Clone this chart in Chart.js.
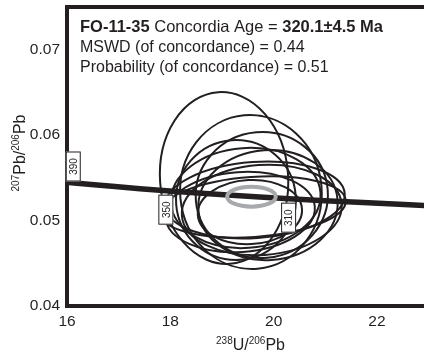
<!DOCTYPE html>
<html>
<head>
<meta charset="utf-8">
<script src="https://cdn.jsdelivr.net/npm/chart.js@4.4.1/dist/chart.umd.min.js"></script>
<style>
  html, body { margin: 0; padding: 0; background: #fff; }
  #wrap { width: 424px; height: 353px; position: relative; }
</style>
</head>
<body>
<div id="wrap"><canvas id="c"></canvas></div>
<script>
// Tera-Wasserburg concordia (age in Ma, 238U/206Pb, 207Pb/206Pb)
const concordiaAge = [400, 390, 380, 370, 360, 350, 340, 330, 320, 310, 300, 290, 280, 270];
const concordiaX = [15.629, 16.034, 16.469, 16.928, 17.411, 17.923, 18.464, 19.039, 19.649, 20.299, 20.992, 21.733, 22.527, 23.380];
const concordiaY = [0.054700, 0.054457, 0.054215, 0.053976, 0.053736, 0.053499, 0.053262, 0.053028, 0.052795, 0.052565, 0.052334, 0.052106, 0.051878, 0.051652];
const labelledAges = [390, 350, 310];

// Spot analyses: ellipse centre, half-axes and tilt (degrees)
const ellipseX    = [19.04, 19.56, 19.77, 19.46, 19.64, 19.60, 19.35, 19.77, 19.54, 19.27, 19.89];
const ellipseY    = [0.05498, 0.05334, 0.05299, 0.05264, 0.05241, 0.05159, 0.05100, 0.05124, 0.05100, 0.05241, 0.05182];
const ellipseRX   = [1.24, 1.37, 1.28, 1.45, 1.74, 1.80, 1.45, 1.55, 1.01, 1.16, 1.35];
const ellipseRY   = [0.01007, 0.00901, 0.00737, 0.00585, 0.00445, 0.00351, 0.00468, 0.00527, 0.00375, 0.00702, 0.00644];
const ellipseTilt = [-4, -5, -5, -4, -4, -4, -4, -4, -3, -4, -4];

// Concordia age ellipse
const ageX = [19.57];
const ageY = [0.0528];
const ageRX = [0.47];
const ageRY = [0.00117];

const xTicks = [16, 18, 20, 22];
const yTicks = [0.04, 0.05, 0.06, 0.07];

const INK = '#231f20';
const FONT = '"Liberation Sans", Arial, sans-serif';

function ellipsePath(ctx, xs, ys, cx, cy, rx, ry, tilt) {
  const px = xs.getPixelForValue(cx);
  const py = ys.getPixelForValue(cy);
  const prx = Math.abs(xs.getPixelForValue(cx + rx) - px);
  const pry = Math.abs(ys.getPixelForValue(cy + ry) - py);
  ctx.beginPath();
  ctx.ellipse(px, py, prx, pry, tilt * Math.PI / 180, 0, Math.PI * 2);
}

// draws a run of [text, size, bold, raise] pieces starting at x on baseline y
function drawRich(ctx, parts, x, y) {
  let cx = x;
  parts.forEach(p => {
    ctx.font = (p[2] ? 'bold ' : '') + p[1] + 'px ' + FONT;
    ctx.fillText(p[0], cx, y - (p[3] || 0));
    cx += ctx.measureText(p[0]).width;
  });
  return cx - x;
}
function richWidth(ctx, parts) {
  let w = 0;
  parts.forEach(p => {
    ctx.font = (p[2] ? 'bold ' : '') + p[1] + 'px ' + FONT;
    w += ctx.measureText(p[0]).width;
  });
  return w;
}

const ellipsesPlugin = {
  id: 'ellipses',
  beforeDatasetsDraw(chart) {
    const ctx = chart.ctx, xs = chart.scales.x, ys = chart.scales.y;
    ctx.save();
    ctx.strokeStyle = INK;
    ctx.lineWidth = 2;
    for (let i = 0; i < ellipseX.length; i++) {
      ellipsePath(ctx, xs, ys, ellipseX[i], ellipseY[i], ellipseRX[i], ellipseRY[i], ellipseTilt[i]);
      ctx.stroke();
    }
    ctx.restore();
  },
  afterDatasetsDraw(chart) {
    const ctx = chart.ctx, xs = chart.scales.x, ys = chart.scales.y;
    ctx.save();
    // concordia age ellipse
    ctx.strokeStyle = '#a7a9ac';
    ctx.lineWidth = 4;
    for (let i = 0; i < ageX.length; i++) {
      ellipsePath(ctx, xs, ys, ageX[i], ageY[i], ageRX[i], ageRY[i], 0);
      ctx.stroke();
    }
    // age tick labels on the concordia
    labelledAges.forEach((age, k) => {
      const i = concordiaAge.indexOf(age);
      const px = xs.getPixelForValue(concordiaX[i]);
      const py = ys.getPixelForValue(concordiaY[i]);
      const w = 15, h = 30;
      let bx, by;
      if (k === 0) { bx = px - 3; by = py - h - 1; }
      else { bx = px - w / 2 - 0.5; by = py + 4; }
      ctx.fillStyle = '#fff';
      ctx.fillRect(bx, by, w, h);
      ctx.strokeStyle = INK;
      ctx.lineWidth = 1;
      ctx.strokeRect(bx + 0.5, by + 0.5, w - 1, h - 1);
      ctx.save();
      ctx.translate(bx + w / 2, by + h / 2);
      ctx.rotate(-Math.PI / 2);
      ctx.fillStyle = INK;
      ctx.font = '10px ' + FONT;
      ctx.textAlign = 'center';
      ctx.textBaseline = 'middle';
      ctx.fillText(String(age), 0, 1);
      ctx.restore();
    });
    ctx.restore();
  },
  afterDraw(chart) {
    const ctx = chart.ctx, a = chart.chartArea;
    ctx.save();
    ctx.fillStyle = INK;
    ctx.textBaseline = 'alphabetic';
    ctx.textAlign = 'left';
    const tx = a.left + 13;
    drawRich(ctx, [['FO-11-35', 16.5, true], [' Concordia Age = ', 16.5, false], ['320.1\u00b14.5 Ma', 16.5, true]], tx, a.top + 25);
    drawRich(ctx, [['MSWD (of concordance) = 0.44', 16, false]], tx, a.top + 45);
    drawRich(ctx, [['Probability (of concordance) = 0.51', 16, false]], tx, a.top + 65);

    // x axis title
    const xt = [['238', 10, false, 6], ['U/', 16, false], ['206', 10, false, 6], ['Pb', 16, false]];
    const xw = richWidth(ctx, xt);
    drawRich(ctx, xt, (a.left + a.right) / 2 + 5 - xw / 2, 350);

    // y axis title
    const yt = [['207', 10, false, 6], ['Pb/', 16, false], ['206', 10, false, 6], ['Pb', 16, false]];
    const yw = richWidth(ctx, yt);
    ctx.translate(25, 153);
    ctx.rotate(-Math.PI / 2);
    drawRich(ctx, yt, -yw / 2, 0);
    ctx.restore();
  }
};

function noEdgePadding(s) {
  s.paddingTop = 0; s.paddingBottom = 0; s.paddingLeft = 0; s.paddingRight = 0;
}

new Chart(document.getElementById('c'), {
  type: 'scatter',
  data: {
    datasets: [{
      label: 'Concordia',
      data: concordiaX.map((x, i) => ({ x: x, y: concordiaY[i] })),
      showLine: true,
      borderColor: INK,
      borderWidth: 5.5,
      pointRadius: 0,
      tension: 0,
      fill: false
    }]
  },
  options: {
    responsive: true,
    maintainAspectRatio: false,
    animation: false,
    devicePixelRatio: 1,
    layout: { padding: 0 },
    plugins: { legend: { display: false }, tooltip: { enabled: false } },
    scales: {
      x: {
        type: 'linear',
        position: 'bottom',
        min: 16,
        max: 22.91,
        afterBuildTicks: s => { s.ticks = xTicks.map(v => ({ value: v })); },
        afterFit: s => { s.height = 47; noEdgePadding(s); },
        grid: { display: false, drawTicks: false },
        border: { display: true, color: INK, width: 4 },
        ticks: { color: INK, font: { family: FONT, size: 15.5 }, padding: 6, maxRotation: 0 }
      },
      xTop: {
        type: 'linear',
        position: 'top',
        min: 16,
        max: 22.91,
        afterFit: s => { s.height = 7; noEdgePadding(s); },
        grid: { display: false, drawTicks: false },
        border: { display: true, color: INK, width: 4 },
        ticks: { display: false }
      },
      y: {
        type: 'linear',
        position: 'left',
        min: 0.04,
        max: 0.075,
        afterBuildTicks: s => { s.ticks = yTicks.map(v => ({ value: v })); },
        afterFit: s => { s.width = 67; noEdgePadding(s); },
        grid: { display: false, drawTicks: false },
        border: { display: true, color: INK, width: 4 },
        ticks: {
          color: INK, font: { family: FONT, size: 15.5 }, padding: 7,
          callback: v => v.toFixed(2)
        }
      }
    }
  },
  plugins: [ellipsesPlugin]
});
</script>
</body>
</html>
